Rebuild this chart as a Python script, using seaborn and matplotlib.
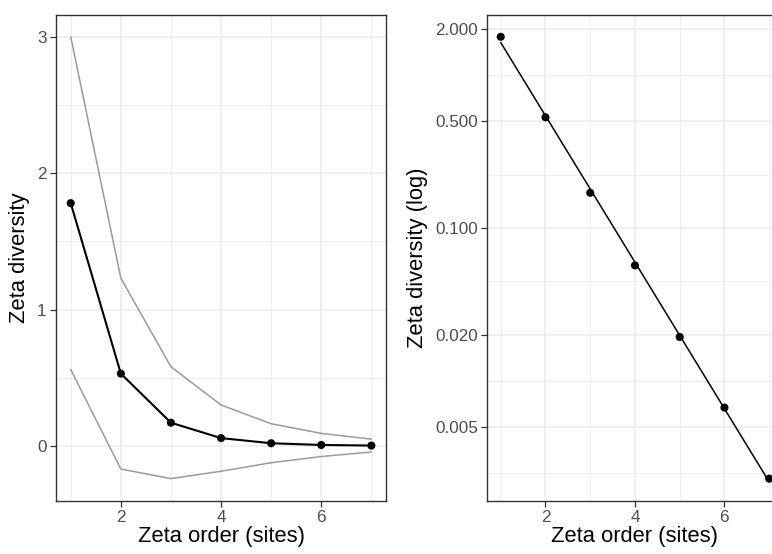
import numpy as np
import pandas as pd
import matplotlib
matplotlib.use("Agg")
import matplotlib.pyplot as plt
from matplotlib.ticker import FixedLocator, FixedFormatter, NullFormatter
import seaborn as sns

# ---- data ----
orders = [1, 2, 3, 4, 5, 6, 7]
zeta_mean = [1.78, 0.53, 0.17, 0.057, 0.0194, 0.0067, 0.0023]
zeta_sd = [1.22, 0.70, 0.41, 0.243, 0.143, 0.085, 0.047]

x_ticks = [2, 4, 6]
left_y_ticks = [0, 1, 2, 3]
left_y_labels = ["0", "1", "2", "3"]
log_y_ticks = [2.0, 0.5, 0.1, 0.02, 0.005]
log_y_labels = ["2.000", "0.500", "0.100", "0.020", "0.005"]

x_title = "Zeta order (sites)"
left_y_title = "Zeta diversity"
right_y_title = "Zeta diversity (log)"

df = pd.DataFrame({"order": orders, "mean": zeta_mean, "sd": zeta_sd})
df["upper"] = df["mean"] + df["sd"]
df["lower"] = df["mean"] - df["sd"]

# linear fit on log10 scale (as geom_smooth(method='lm') on a log axis)
slope, intercept = np.polyfit(df["order"], np.log10(df["mean"]), 1)
fit = pd.DataFrame({"order": [min(orders), max(orders)]})
fit["pred"] = 10 ** (intercept + slope * fit["order"])

sns.set_theme(style="white")
plt.rcParams["font.family"] = ["Liberation Sans", "DejaVu Sans"]

W, H = 772, 554
fig = plt.figure(figsize=(W / 100, H / 100), dpi=100)
top_px, bot_px = 14.7, 500.7
ax1 = fig.add_axes([55.7 / W, (H - bot_px) / H, (386.4 - 55.7) / W, (bot_px - top_px) / H])
ax2 = fig.add_axes([487.3 / W, (H - bot_px) / H, (782.6 - 487.3) / W, (bot_px - top_px) / H])

grid_col = "#EBEBEB"
tick_lab_col = "#4D4D4D"
border_col = "#333333"
title_fs = 15.8
tick_fs = 12.3


def style_axes(ax):
    for sp in ax.spines.values():
        sp.set_color(border_col)
        sp.set_linewidth(1.0)
        sp.set_visible(True)
    ax.set_axisbelow(True)
    ax.grid(which="major", color=grid_col, linewidth=1.1)
    ax.grid(which="minor", color=grid_col, linewidth=0.6)
    ax.tick_params(which="major", length=4.2, width=0.9, color=border_col,
                   labelsize=tick_fs, labelcolor=tick_lab_col, pad=2.5,
                   bottom=True, left=True)
    ax.tick_params(which="minor", length=0, bottom=False, left=False)
    ax.set_xlabel(x_title, fontsize=title_fs, color="black", labelpad=1)


def expand(lo, hi, f=0.05):
    span = hi - lo
    return lo - f * span, hi + f * span


# ---- left panel ----
sns.lineplot(data=df, x="order", y="upper", ax=ax1, color="#9A9A9A", linewidth=1.1)
sns.lineplot(data=df, x="order", y="lower", ax=ax1, color="#9A9A9A", linewidth=1.1)
sns.lineplot(data=df, x="order", y="mean", ax=ax1, color="black", linewidth=1.5)
sns.scatterplot(data=df, x="order", y="mean", ax=ax1, color="black", s=34,
                edgecolor="none", zorder=5)
ax1.set_xlim(*expand(min(orders), max(orders)))
ax1.set_ylim(*expand(df["lower"].min(), df["upper"].max()))
ax1.xaxis.set_major_locator(FixedLocator(x_ticks))
ax1.xaxis.set_minor_locator(FixedLocator([1, 3, 5, 7]))
ax1.yaxis.set_major_locator(FixedLocator(left_y_ticks))
ax1.yaxis.set_major_formatter(FixedFormatter(left_y_labels))
ax1.yaxis.set_minor_locator(FixedLocator([0.5, 1.5, 2.5]))
ax1.xaxis.set_minor_formatter(NullFormatter())
ax1.yaxis.set_minor_formatter(NullFormatter())
style_axes(ax1)
ax1.set_ylabel(left_y_title, fontsize=title_fs, color="black", labelpad=5)

# ---- right panel ----
ax2.set_yscale("log")
sns.lineplot(data=fit, x="order", y="pred", ax=ax2, color="black", linewidth=1.1)
sns.scatterplot(data=df, x="order", y="mean", ax=ax2, color="black", s=34,
                edgecolor="none", zorder=5, clip_on=False)
ax2.set_xlim(*expand(min(orders), max(orders)))
lmin, lmax = expand(np.log10(min(zeta_mean)), np.log10(max(zeta_mean)))
ax2.set_ylim(10 ** lmin, 10 ** lmax)
ax2.xaxis.set_major_locator(FixedLocator(x_ticks))
ax2.xaxis.set_minor_locator(FixedLocator([1, 3, 5, 7]))
ax2.yaxis.set_major_locator(FixedLocator(log_y_ticks))
ax2.yaxis.set_major_formatter(FixedFormatter(log_y_labels))
lt = np.sort(np.log10(log_y_ticks))
step = lt[1] - lt[0]
ext = np.concatenate([[lt[0] - step], lt, [lt[-1] + step]])
minor = 10 ** ((ext[:-1] + ext[1:]) / 2)
ax2.yaxis.set_minor_locator(FixedLocator(minor))
ax2.xaxis.set_minor_formatter(NullFormatter())
ax2.yaxis.set_minor_formatter(NullFormatter())
style_axes(ax2)
ax2.set_ylabel(right_y_title, fontsize=title_fs, color="black", labelpad=5)

fig.savefig("out.png", dpi=100)
